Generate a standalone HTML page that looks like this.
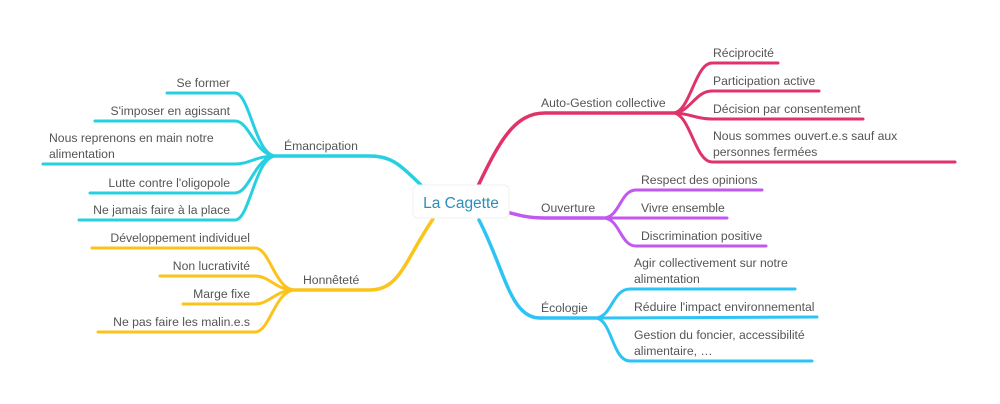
<!DOCTYPE html>
<html><head><meta charset="utf-8"><style>
html,body{margin:0;padding:0;background:#fff;}
svg{display:block;}
text{font-family:"Liberation Sans",sans-serif;font-size:12.2px;fill:#555;}
</style></head><body>
<svg width="1000" height="404" viewBox="0 0 1000 404" xmlns="http://www.w3.org/2000/svg">
<g fill="none" stroke-linecap="round" stroke-width="3.5">
<g stroke="#e0336a">
<path d="M478,186 C500,140 515,113 545,113 L673,113"/>
<path d="M673,113 C690,113 695,63 712,63 L778,63" stroke-width="3"/>
<path d="M673,113 C690,113 695,91 712,91 L819,91" stroke-width="3"/>
<path d="M673,113 C690,113 695,119 712,119 L863,119" stroke-width="3"/>
<path d="M673,113 C690,113 695,162 712,162 L955,162" stroke-width="3"/>
</g>
<g stroke="#c158f0">
<path d="M499,210 C515,214 525,218 545,218 L603,218"/>
<path d="M603,218 C620,218 620,190 636,190 L762,190" stroke-width="3"/>
<path d="M603,218 L727,218" stroke-width="3"/>
<path d="M603,218 C620,218 620,246 636,246 L766,246" stroke-width="3"/>
</g>
<g stroke="#2ec3f5">
<path d="M479,220 C505,270 510,318 540,318 L595,318"/>
<path d="M595,318 C612,318 612,289 630,289 L795,289" stroke-width="3"/>
<path d="M595,318 L817,317" stroke-width="3"/>
<path d="M595,318 C612,318 612,361 630,361 L812,361" stroke-width="3"/>
</g>
<g stroke="#26d0e0">
<path d="M422,186 C400,165 392,156 370,156 L276,156"/>
<path d="M276,156 C255,156 250,93 235,93 L167,93" stroke-width="3"/>
<path d="M276,156 C255,156 250,121 235,121 L95,121" stroke-width="3"/>
<path d="M276,156 C255,156 250,164 235,164 L43,164" stroke-width="3"/>
<path d="M276,156 C255,156 250,193 235,193 L90,193" stroke-width="3"/>
<path d="M276,156 C255,156 250,220 235,220 L79,220" stroke-width="3"/>
</g>
<g stroke="#fcc31a">
<path d="M433,219 C405,260 400,290 370,290 L295,290"/>
<path d="M295,290 C275,290 270,248 255,248 L92,248" stroke-width="3"/>
<path d="M295,290 C275,290 270,276 255,276 L160,276" stroke-width="3"/>
<path d="M295,290 C275,290 270,304 255,304 L183,304" stroke-width="3"/>
<path d="M295,290 C275,290 270,332 255,332 L98,332" stroke-width="3"/>
</g>
</g>
<rect x="413" y="185" width="96" height="33" rx="5" fill="#fff" stroke="#f0f0f0"/>
<text x="461" y="208" text-anchor="middle" style="font-size:15.5px;fill:#2a8fb8">La Cagette</text>

<text x="541" y="107">Auto-Gestion collective</text>
<text x="713" y="57">Réciprocité</text>
<text x="713" y="85">Participation active</text>
<text x="713" y="113">Décision par consentement</text>
<text x="713" y="140">Nous sommes ouvert.e.s sauf aux</text>
<text x="713" y="156">personnes fermées</text>

<text x="541" y="212">Ouverture</text>
<text x="641" y="184">Respect des opinions</text>
<text x="641" y="212">Vivre ensemble</text>
<text x="641" y="240">Discrimination positive</text>

<text x="541" y="312">Écologie</text>
<text x="634" y="267">Agir collectivement sur notre</text>
<text x="634" y="283">alimentation</text>
<text x="634" y="311">Réduire l'impact environnemental</text>
<text x="634" y="339">Gestion du foncier, accessibilité</text>
<text x="634" y="355">alimentaire, …</text>

<text x="284" y="150">Émancipation</text>
<g text-anchor="end">
<text x="230" y="87">Se former</text>
<text x="230" y="115">S'imposer en agissant</text>
<text x="230" y="187">Lutte contre l'oligopole</text>
<text x="230" y="214">Ne jamais faire à la place</text>
<text x="250" y="242">Développement individuel</text>
<text x="250" y="270">Non lucrativité</text>
<text x="250" y="298">Marge fixe</text>
<text x="250" y="326">Ne pas faire les malin.e.s</text>
</g>
<text x="49" y="142">Nous reprenons en main notre</text>
<text x="49" y="158">alimentation</text>
<text x="303" y="284">Honnêteté</text>
</svg>
</body></html>
